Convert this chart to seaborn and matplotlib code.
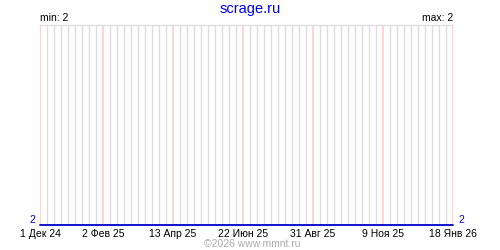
import matplotlib
matplotlib.use("Agg")
import matplotlib.pyplot as plt
import matplotlib.dates as mdates
from matplotlib.ticker import FixedLocator, NullFormatter
import seaborn as sns
import pandas as pd

# ---- data ----
dates = ["2024-12-01", "2025-02-02", "2025-04-13", "2025-06-22",
         "2025-08-31", "2025-11-09", "2026-01-18"]
values = [2, 2, 2, 2, 2, 2, 2]
tick_dates = ["2024-12-01", "2025-02-02", "2025-04-13", "2025-06-22",
              "2025-08-31", "2025-11-09", "2026-01-18"]
tick_labels = ["1 Дек 24", "2 Фев 25", "13 Апр 25", "22 Июн 25",
               "31 Авг 25", "9 Ноя 25", "18 Янв 26"]
title = "scrage.ru"
min_label = "min: 2"
max_label = "max: 2"
footer = "©2026 www.mmnt.ru"

sns.set_style("white")
plt.rcParams['font.family'] = ['Liberation Sans', 'DejaVu Sans']

df = pd.DataFrame({"date": pd.to_datetime(dates), "value": values})

fig = plt.figure(figsize=(5, 2.5), dpi=100)
ax = fig.add_axes([0.08, 0.1, 0.826, 0.8])

sns.lineplot(data=df, x="date", y="value", ax=ax, color="#0000cc",
             linewidth=1.3, zorder=5, clip_on=False)

ax.set_xlim(pd.Timestamp(dates[0]), pd.Timestamp(dates[-1]))
ax.set_ylim(2, 3)

# weekly minor grid, major pink grid at labels
ax.xaxis.set_minor_locator(mdates.WeekdayLocator(byweekday=mdates.SU))
ax.xaxis.set_minor_formatter(NullFormatter())
major = [mdates.date2num(pd.Timestamp(d)) for d in tick_dates]
ax.xaxis.set_major_locator(FixedLocator(major))
ax.set_xticklabels(tick_labels)
ax.grid(True, which="minor", axis="x", color="#dddddd", linewidth=1)
ax.grid(True, which="major", axis="x", color="#ffc8c8", linewidth=1.1)
ax.set_axisbelow(True)
ax.tick_params(axis="x", which="both", length=0, pad=3, labelsize=7.5,
               labelcolor="black")
ax.set_yticks([])
ax.set_xlabel("")
ax.set_ylabel("")

for s in ["left", "right", "bottom"]:
    ax.spines[s].set_visible(False)
ax.spines["top"].set_color("#dddddd")
ax.spines["top"].set_linewidth(1)

ax.text(-0.012, 0.0, "2", transform=ax.transAxes, ha="right", va="bottom",
        color="#0000cc", fontsize=7.5)
ax.text(1.012, 0.0, "2", transform=ax.transAxes, ha="left", va="bottom",
        color="#0000cc", fontsize=7.5)
ax.text(0.0, 1.01, min_label, transform=ax.transAxes, ha="left",
        va="bottom", color="black", fontsize=7.5)
ax.text(1.0, 1.01, max_label, transform=ax.transAxes, ha="right",
        va="bottom", color="black", fontsize=7.5)

fig.text(0.5, 0.99, title, ha="center", va="top", color="#0000ff",
         fontsize=10.5)
fig.text(0.505, 0.005, footer, ha="center", va="bottom", color="#aaaaaa",
         fontsize=7.5)

fig.savefig("out.png", dpi=100, facecolor="white")
